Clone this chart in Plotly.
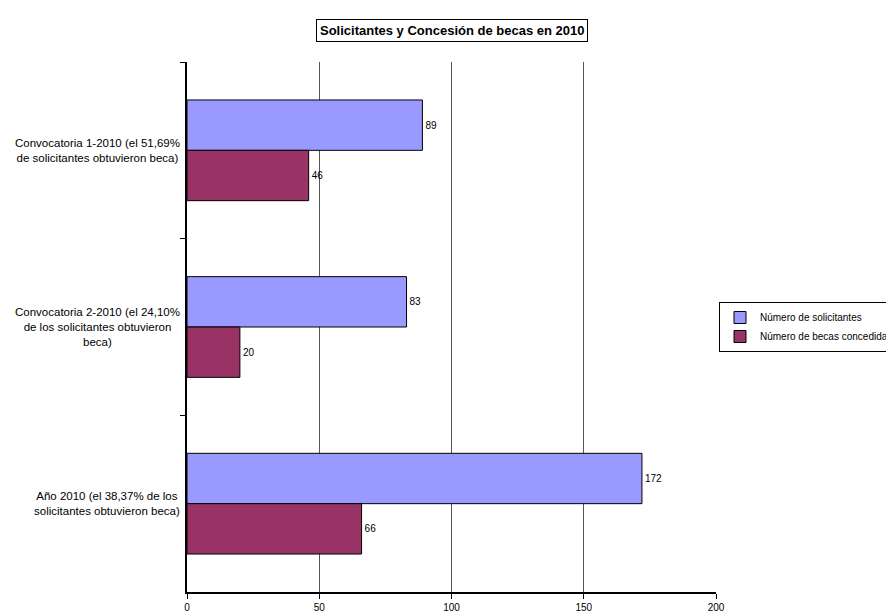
import plotly.graph_objects as go

categories = [
    "Convocatoria 1-2010 (el 51,69%<br>de solicitantes obtuvieron beca)",
    "Convocatoria 2-2010 (el 24,10%<br>de los solicitantes obtuvieron<br>beca)",
    "Año 2010 (el 38,37% de los<br>solicitantes obtuvieron beca)",
]
cat_keys = ["c1", "c2", "a"]
solicitantes = [89, 83, 172]
becas = [46, 20, 66]
series_names = ["Número de solicitantes", "Número de becas concedidas"]
x_ticks = [0, 50, 100, 150, 200]

FONT = "Liberation Sans, Arial"

fig = go.Figure()
fig.add_trace(go.Bar(
    y=cat_keys, x=solicitantes, orientation="h", name=series_names[0],
    marker=dict(color="#9999FF", line=dict(color="black", width=1)),
    text=solicitantes, textposition="outside", cliponaxis=False,
    textfont=dict(size=10, color="black", family=FONT),
))
fig.add_trace(go.Bar(
    y=cat_keys, x=becas, orientation="h", name=series_names[1],
    marker=dict(color="#993366", line=dict(color="black", width=1)),
    text=becas, textposition="outside", cliponaxis=False,
    textfont=dict(size=10, color="black", family=FONT),
))

for key, label in zip(cat_keys, categories):
    fig.add_annotation(
        x=-0.01, xref="paper", y=key, yref="y", text=label,
        showarrow=False, xanchor="right", yanchor="middle", align="center",
        font=dict(size=11.5, color="black", family=FONT),
    )

fig.add_annotation(
    x=0.5, xref="paper", y=1.038, yref="paper", yanchor="bottom",
    text="<b>Solicitantes y Concesión de becas en 2010</b>",
    showarrow=False, bordercolor="black", borderwidth=1, borderpad=3,
    font=dict(size=13, color="black", family=FONT), bgcolor="white",
)

fig.update_layout(
    width=894, height=615,
    margin=dict(l=179, r=186, t=54, b=31, autoexpand=False),
    paper_bgcolor="white", plot_bgcolor="white",
    barmode="group", bargap=0.43, bargroupgap=0,
    font=dict(family=FONT, size=11, color="black"),
    showlegend=True,
    legend=dict(
        xref="container", yref="container",
        x=711 / 894, y=1 - 294 / 615, xanchor="left", yanchor="top",
        bordercolor="black", borderwidth=1, bgcolor="white",
        font=dict(size=10, family=FONT, color="black"),
        itemwidth=30, tracegroupgap=0,
    ),
    xaxis=dict(
        range=[0, 200], tickvals=x_ticks, showgrid=True, gridcolor="#555555",
        gridwidth=1, zeroline=False, showline=True, linecolor="black",
        linewidth=2, ticks="outside", ticklen=5, tickcolor="black",
        tickfont=dict(size=10, family=FONT), mirror=False,
    ),
    yaxis=dict(
        categoryorder="array", categoryarray=cat_keys, autorange="reversed",
        showticklabels=False, showline=True, linecolor="black", linewidth=2,
        ticks="outside", ticklen=5, tickcolor="black", tickson="boundaries",
        showgrid=False,
    ),
)

fig.write_html("out.html")
